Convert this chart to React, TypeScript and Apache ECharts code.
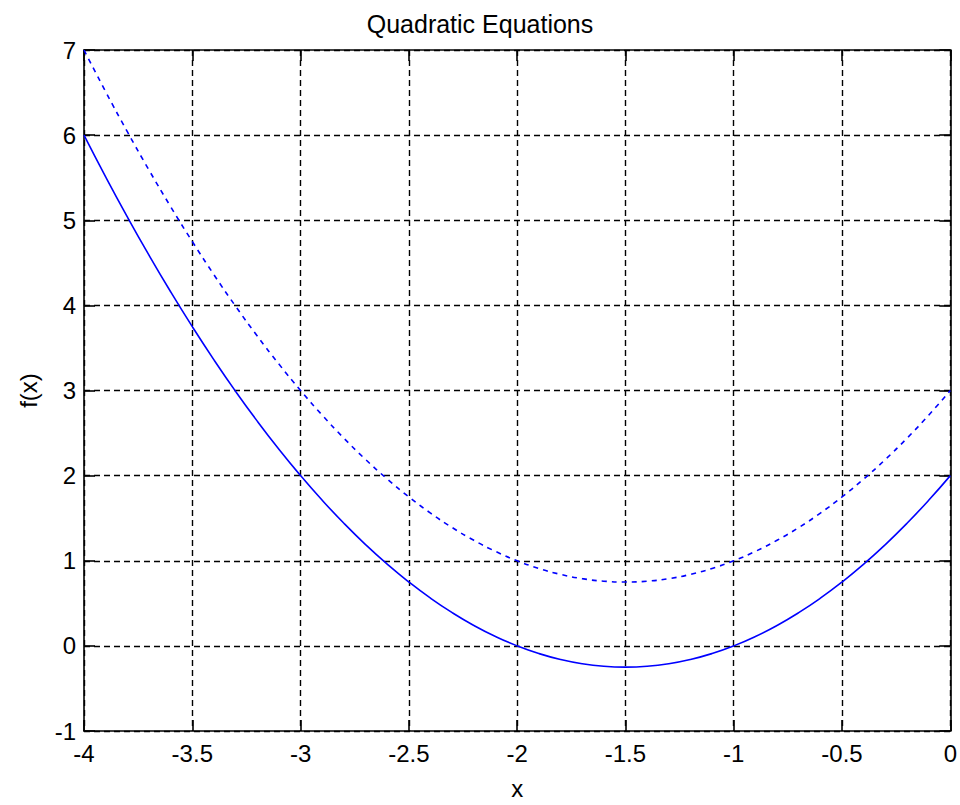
import React, { useEffect, useRef } from "react";
import * as echarts from "echarts";

const TITLE = "Quadratic Equations";
const X_LABEL = "x";
const Y_LABEL = "f(x)";
const xValues = [
  -4, -3.9, -3.8, -3.7, -3.6, -3.5, -3.4, -3.3, -3.2, -3.1, -3, -2.9, -2.8, -2.7, -2.6, -2.5, -2.4, -2.3, -2.2, -2.1, -2,
  -1.9, -1.8, -1.7, -1.6, -1.5, -1.4, -1.3, -1.2, -1.1, -1, -0.9, -0.8, -0.7, -0.6, -0.5, -0.4, -0.3, -0.2, -0.1, 0,
];
const solidValues = [
  6, 5.51, 5.04, 4.59, 4.16, 3.75, 3.36, 2.99, 2.64, 2.31, 2, 1.71, 1.44, 1.19, 0.96, 0.75, 0.56, 0.39, 0.24, 0.11, 0,
  -0.09, -0.16, -0.21, -0.24, -0.25, -0.24, -0.21, -0.16, -0.09, 0, 0.11, 0.24, 0.39, 0.56, 0.75, 0.96, 1.19, 1.44, 1.71, 2,
];
const dashedValues = [
  7, 6.51, 6.04, 5.59, 5.16, 4.75, 4.36, 3.99, 3.64, 3.31, 3, 2.71, 2.44, 2.19, 1.96, 1.75, 1.56, 1.39, 1.24, 1.11, 1,
  0.91, 0.84, 0.79, 0.76, 0.75, 0.76, 0.79, 0.84, 0.91, 1, 1.11, 1.24, 1.39, 1.56, 1.75, 1.96, 2.19, 2.44, 2.71, 3,
];

const FONT = "Liberation Sans, Arial, sans-serif";

export default function App() {
  const ref = useRef<HTMLDivElement>(null);
  useEffect(() => {
    if (!ref.current) return;
    const chart = echarts.init(ref.current, undefined, { renderer: "svg" });
    const gridDash = {
      show: true,
      lineStyle: { color: "#000", width: 1.4, type: [6, 4] as any },
    };
    const axisLine = { show: true, onZero: false, lineStyle: { color: "#000", width: 1.6 } };
    const tick = { show: true, inside: true, length: 11, lineStyle: { color: "#000", width: 1.6 } };
    const label = { color: "#000", fontFamily: FONT, fontSize: 24 };
    chart.setOption({
      animation: false,
      backgroundColor: "#fff",
      title: {
        text: TITLE,
        left: "center",
        top: 6,
        textStyle: { fontFamily: FONT, fontSize: 25, fontWeight: "normal", color: "#000" },
      },
      grid: { left: 84, right: 8, top: 50, bottom: 69, containLabel: false },
      xAxis: [
        {
          type: "value",
          min: -4,
          max: 0,
          interval: 0.5,
          position: "bottom",
          name: X_LABEL,
          nameLocation: "middle",
          nameGap: 45,
          nameTextStyle: { ...label },
          axisLine,
          axisTick: tick,
          axisLabel: { ...label, margin: 10 },
          splitLine: gridDash,
        },
        {
          type: "value",
          min: -4,
          max: 0,
          interval: 0.5,
          position: "top",
          axisLine,
          axisTick: tick,
          axisLabel: { show: false },
          splitLine: { show: false },
        },
      ],
      yAxis: [
        {
          type: "value",
          min: -1,
          max: 7,
          interval: 1,
          position: "left",
          name: Y_LABEL,
          nameLocation: "middle",
          nameGap: 44,
          nameTextStyle: { ...label },
          axisLine,
          axisTick: tick,
          axisLabel: { ...label, margin: 8 },
          splitLine: gridDash,
        },
        {
          type: "value",
          min: -1,
          max: 7,
          interval: 1,
          position: "right",
          axisLine,
          axisTick: tick,
          axisLabel: { show: false },
          splitLine: { show: false },
        },
      ],
      series: [
        {
          type: "line",
          data: xValues.map((x, i) => [x, solidValues[i]]),
          smooth: true,
          showSymbol: false,
          lineStyle: { color: "#0000ff", width: 1.6, type: "solid" },
          clip: true,
        },
        {
          type: "line",
          data: xValues.map((x, i) => [x, dashedValues[i]]),
          smooth: true,
          showSymbol: false,
          lineStyle: { color: "#0000ff", width: 1.6, type: [5, 5] as any },
          clip: true,
        },
      ],
    });
    return () => chart.dispose();
  }, []);
  return <div ref={ref} style={{ position: "fixed", left: 0, top: 0, width: 960, height: 805 }} />;
}
